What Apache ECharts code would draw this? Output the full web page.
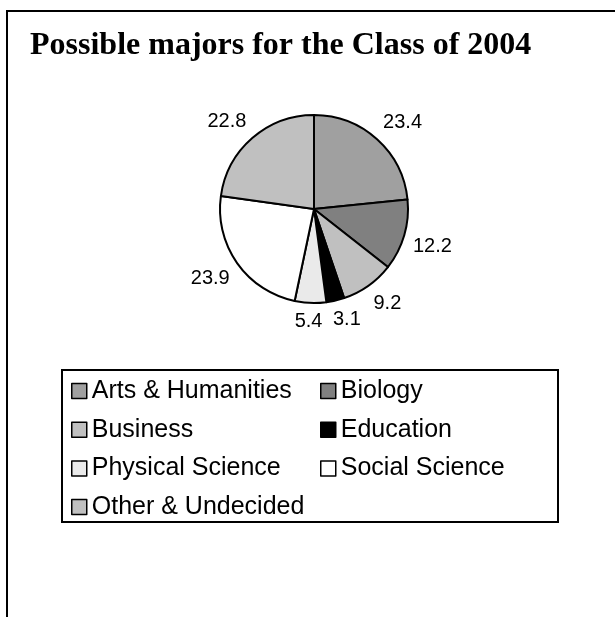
<!DOCTYPE html>
<html>
<head>
<meta charset="utf-8">
<title>Possible majors for the Class of 2004</title>
<script src="https://cdn.jsdelivr.net/npm/echarts@6/dist/echarts.min.js"></script>
<style>
  html, body { margin: 0; padding: 0; background: #fff; }
  #main { width: 615px; height: 617px; }
</style>
</head>
<body>
<div id="main"></div>
<script>
// data, clockwise from 12 o'clock
var majors = ['Arts & Humanities', 'Biology', 'Business', 'Education', 'Physical Science', 'Social Science', 'Other & Undecided'];
var percents = [23.4, 12.2, 9.2, 3.1, 5.4, 23.9, 22.8];
var sliceColors = ['#a0a0a0', '#808080', '#c0c0c0', '#000000', '#eaeaea', '#ffffff', '#c0c0c0'];
// legend is laid out in two columns
var leftColumn = ['Arts & Humanities', 'Business', 'Physical Science', 'Other & Undecided'];
var rightColumn = ['Biology', 'Education', 'Social Science'];

var sans = 'Liberation Sans, Arial, sans-serif';
var CX = 314, CY = 209, R = 94;
var LABEL_GAP = 9;   // label box corner sits this far outside the rim

var total = percents.reduce(function (a, b) { return a + b; }, 0);

var pieData = majors.map(function (name, i) {
    return { name: name, value: percents[i] };
});

// place value labels like the spreadsheet does: nearest box corner just off the rim
function placeLabel(p) {
    var before = 0;
    for (var i = 0; i < p.dataIndex; i++) before += percents[i];
    var mid = (before + percents[p.dataIndex] / 2) / total * Math.PI * 2;
    var ux = Math.sin(mid), uy = -Math.cos(mid);
    var a = R + LABEL_GAP;
    var w = p.labelRect.width, h = p.labelRect.height;
    var kx = Math.max(-1, Math.min(1, ux * 3));
    var ky = Math.max(-1, Math.min(1, uy * 3));
    return {
        x: CX + ux * a + kx * w / 2,
        y: CY + uy * a + ky * h / 2,
        align: 'center',
        verticalAlign: 'middle'
    };
}

var legendBase = {
    orient: 'vertical',
    top: 378.5,
    padding: 0,
    itemWidth: 15,
    itemHeight: 15,
    itemGap: 13.7,
    icon: 'rect',
    itemStyle: { borderColor: '#000', borderWidth: 1.5 },
    textStyle: { fontFamily: sans, fontSize: 25, lineHeight: 24, color: '#000' }
};

var chart = echarts.init(document.getElementById('main'));
chart.setOption({
    animation: false,
    color: sliceColors,
    title: {
        text: 'Possible majors for the Class of 2004',
        left: 30,
        top: 30,
        padding: 0,
        textStyle: { fontFamily: 'Liberation Serif, Times New Roman, serif', fontSize: 32, fontWeight: 'bold', lineHeight: 32, color: '#000' }
    },
    legend: [
        Object.assign({}, legendBase, { left: 71, data: leftColumn }),
        Object.assign({}, legendBase, { left: 320, data: rightColumn })
    ],
    graphic: [
        { type: 'line', shape: { x1: 7, y1: 11, x2: 615, y2: 11 }, style: { stroke: '#000', lineWidth: 2 } },
        { type: 'line', shape: { x1: 7, y1: 10, x2: 7, y2: 617 }, style: { stroke: '#000', lineWidth: 2 } },
        { type: 'rect', shape: { x: 62, y: 370, width: 496, height: 152 }, style: { fill: 'none', stroke: '#000', lineWidth: 2 } }
    ],
    series: [
        {
            type: 'pie',
            center: [CX, CY],
            radius: [0, R],
            startAngle: 90,
            clockwise: true,
            avoidLabelOverlap: false,
            label: {
                show: true,
                position: 'outside',
                fontFamily: sans,
                fontSize: 20,
                lineHeight: 20,
                color: '#000',
                formatter: function (p) { return p.value.toFixed(1); }
            },
            labelLine: { show: false },
            labelLayout: placeLabel,
            itemStyle: { borderColor: '#000', borderWidth: 2 },
            emphasis: { disabled: true },
            data: pieData
        }
    ]
});
</script>
</body>
</html>
